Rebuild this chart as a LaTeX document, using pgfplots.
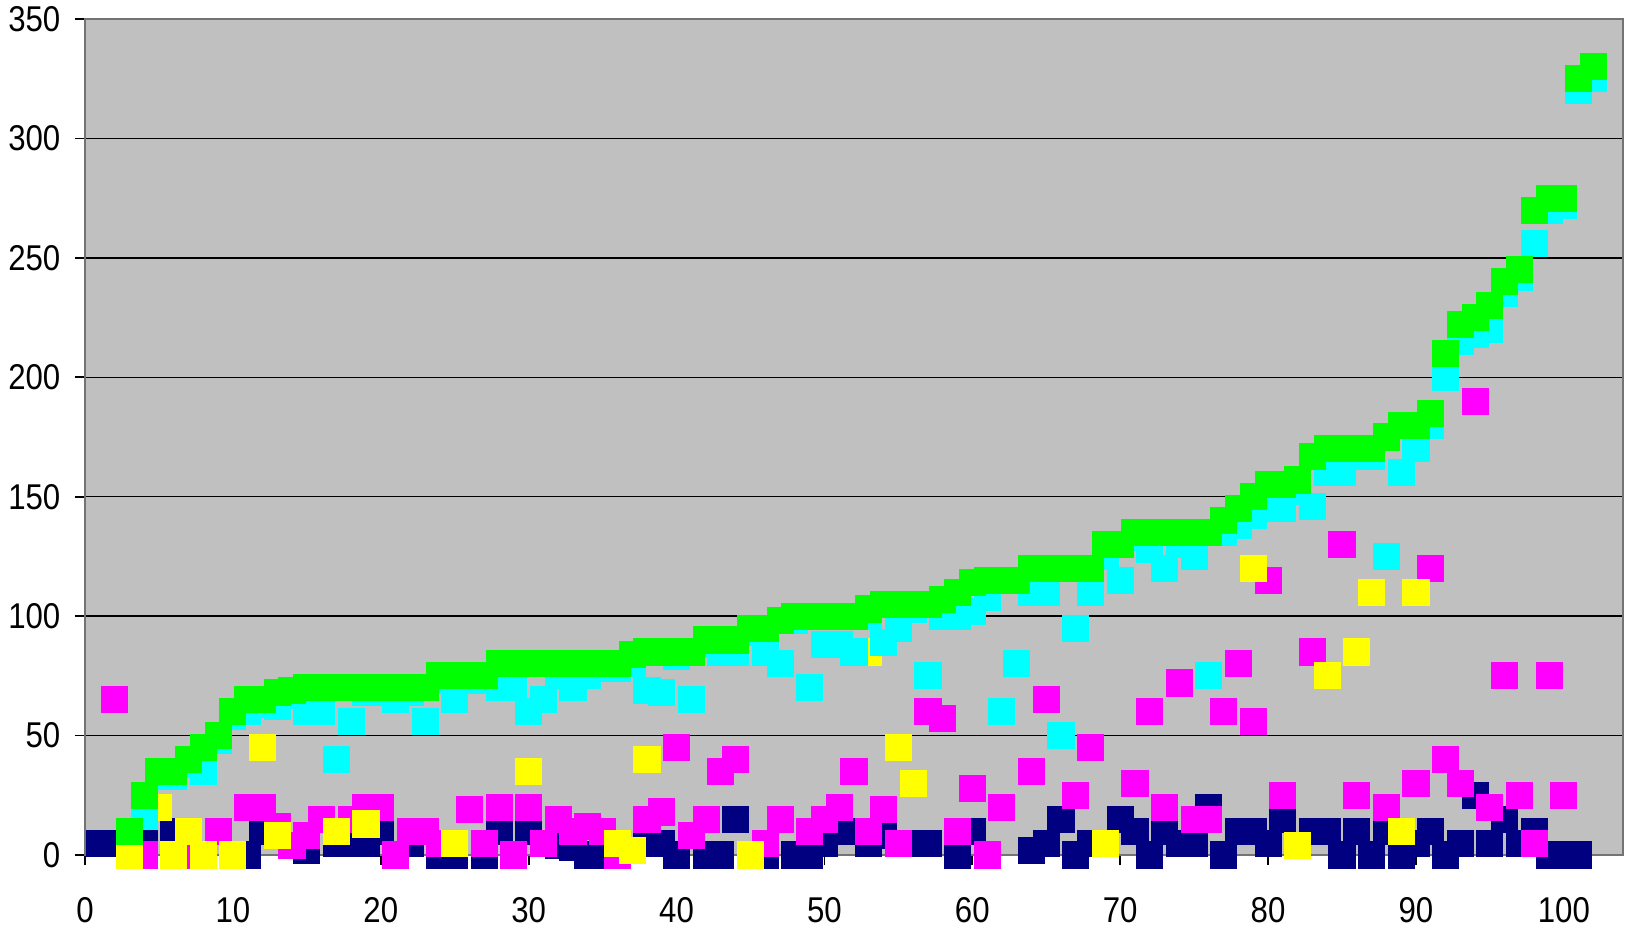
\documentclass[border=0pt]{standalone}
\usepackage{pgfplots}
\pgfplotsset{compat=1.18}
\usepackage{pgfplotstable}
\usepackage{fontspec}
\setmainfont{Liberation Sans}
\newfontfamily\tickfont[FakeStretch=0.87]{Liberation Sans}

\definecolor{plotbg}{HTML}{C0C0C0}
\definecolor{sgreen}{HTML}{00FF00}
\definecolor{scyan}{HTML}{00FFFF}
\definecolor{smag}{HTML}{FF00FF}
\definecolor{syel}{HTML}{FFFF00}
\definecolor{snavy}{HTML}{000080}

% series, x = index, y = value
\pgfplotstableread{
x y
1 5
2 5
4 5
6 10
11 0
12 10
15 2
17 5
18 5
19 5
20 10
22 5
24 0
25 0
27 0
28 10
30 10
32 4
33 3
34 0
35 0
38 5
39 5
40 0
42 0
43 0
44 15
46 0
48 0
49 0
50 5
51 10
52 10
53 5
54 8
56 5
57 5
59 0
60 10
64 2
65 5
66 15
67 0
68 5
70 15
71 10
72 0
73 10
74 5
75 5
76 20
77 0
78 10
79 10
80 5
81 15
83 10
84 10
85 0
86 10
87 0
88 10
89 0
90 5
91 10
92 0
93 5
94 25
95 5
96 15
97 5
98 10
99 0
100 0
101 0
}\navy

\pgfplotstableread{
x y
2 65
4 0
7 0
9 10
11 20
12 20
13 12
14 4
15 8
16 15
18 15
19 20
20 20
21 0
22 10
23 10
24 5
26 19
27 5
28 20
29 0
30 20
31 5
32 15
33 10
34 12
35 10
36 0
38 15
39 18
40 45
41 8
42 15
43 35
44 40
46 5
47 15
49 10
50 15
51 20
52 35
53 10
54 19
55 5
57 60
58 57
59 10
60 28
61 0
62 20
64 35
65 65
67 25
68 45
71 30
72 60
73 20
74 72
75 15
76 15
77 60
78 80
79 56
80 115
81 25
83 85
85 130
86 25
88 20
90 30
91 120
92 40
93 30
94 190
95 20
96 75
97 25
98 5
99 75
100 25
}\magenta

\pgfplotstableread{
x y
3 0
5 20
6 0
7 10
8 0
10 0
12 45
13 8
17 10
19 13
25 5
30 35
36 5
37 2
38 40
45 0
53 85
55 45
56 30
69 5
79 120
82 4
84 75
86 85
87 110
89 10
90 110
}\yellow

\pgfplotstableread{
x y
4 16
5 33
6 33
7 38
8 35
9 48
10 58
11 60
12 63
13 62
14 67
15 60
16 60
17 40
18 56
19 68
20 68
21 65
22 68
23 56
24 73
25 65
26 73
27 73
28 70
29 70
30 60
31 65
32 75
33 70
34 75
35 78
36 78
37 80
38 69
39 68
40 83
41 65
42 88
43 85
44 85
45 93
46 85
47 80
48 98
49 70
50 88
51 88
52 85
53 100
54 89
55 95
56 103
57 75
58 100
59 100
60 102
61 108
62 60
63 80
64 110
65 110
66 50
67 95
68 110
69 125
70 115
71 133
72 128
73 120
74 130
75 125
76 75
77 135
78 138
79 142
80 145
81 145
82 152
83 146
84 160
85 160
86 167
87 167
88 125
89 160
90 170
91 180
92 200
93 215
94 218
95 220
96 235
97 242
98 256
99 270
100 272
101 320
102 325
}\cyan

\pgfplotstableread{
x y
3 10
4 25
5 35
6 35
7 40
8 45
9 50
10 60
11 65
12 65
13 68
14 69
15 70
16 70
17 70
18 70
19 70
20 70
21 70
22 70
23 70
24 75
25 75
26 75
27 75
28 80
29 80
30 80
31 80
32 80
33 80
34 80
35 80
36 80
37 84
38 85
39 85
40 85
41 85
42 90
43 90
44 90
45 95
46 95
47 98
48 100
49 100
50 100
51 100
52 100
53 103
54 105
55 105
56 105
57 105
58 107
59 110
60 114
61 115
62 115
63 115
64 120
65 120
66 120
67 120
68 120
69 130
70 130
71 135
72 135
73 135
74 135
75 135
76 135
77 140
78 145
79 150
80 155
81 155
82 157
83 167
84 170
85 170
86 170
87 170
88 175
89 180
90 180
91 185
92 210
93 222
94 225
95 230
96 240
97 245
98 270
99 275
100 275
101 325
102 330
}\green

\begin{document}
\begin{tikzpicture}
\begin{axis}[
    scale only axis,
    width=153.8mm, height=83.6mm,
    xmin=0, xmax=104, ymin=0, ymax=350,
    xtick={0,10,...,100},
    ytick={0,50,...,350},
    xtick pos=left, ytick pos=left,
    ymajorgrids,
    grid style={black, line width=0.4pt},
    axis background/.style={fill=plotbg},
    axis line style={draw=black!55, line width=0.6pt},
    tick align=outside,
    major tick length=1mm,
    tick style={black, line width=0.5pt},
    /pgf/number format/assume math mode=true,
    ticklabel style={font=\tickfont\fontsize{10.2}{12}\selectfont, inner sep=0pt},
    yticklabel style={xshift=-1.4mm},
    xticklabel style={yshift=-3.2mm},
    every axis plot/.append style={only marks, mark=square*,
        mark size=1.285mm, mark options={xscale=0.895, draw=none}},
]
\addplot[color=snavy, mark options={fill=snavy}] table {\navy};
\addplot[color=smag, mark options={fill=smag}] table {\magenta};
\addplot[color=syel, mark options={fill=syel}] table {\yellow};
\addplot[color=scyan, mark options={fill=scyan}] table {\cyan};
\addplot[color=sgreen, mark options={fill=sgreen}] table {\green};
\end{axis}
\path ([xshift=-8.5mm,yshift=-7.7mm]current axis.south west)
    rectangle ([xshift=0.2mm,yshift=1.9mm]current axis.north east);
\end{tikzpicture}
\end{document}
